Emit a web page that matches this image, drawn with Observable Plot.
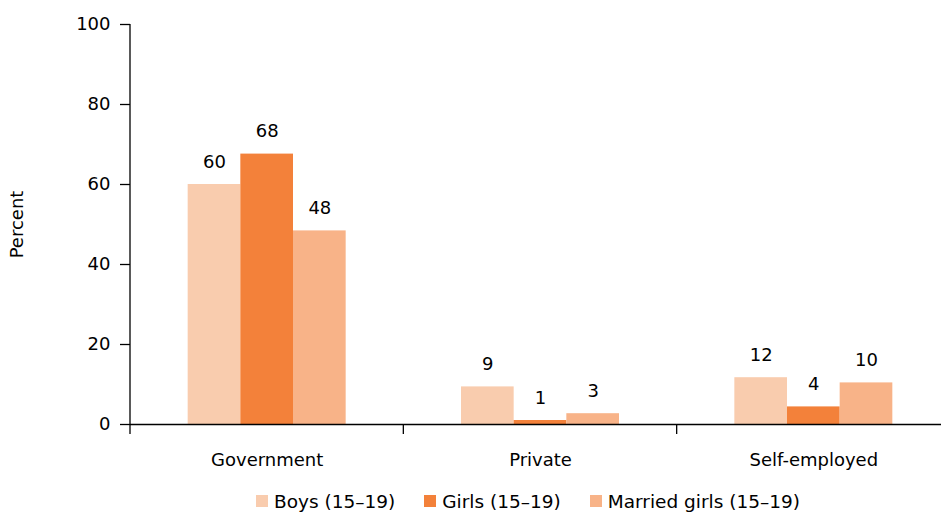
<!DOCTYPE html>
<html><head><meta charset="utf-8">
<script src="https://cdn.jsdelivr.net/npm/d3@7"></script>
<script src="https://cdn.jsdelivr.net/npm/@observablehq/plot@0.6"></script>
<style>
body{margin:0;background:#fff;font-family:"DejaVu Sans",sans-serif;overflow:hidden}
#legend{display:flex;align-items:center;height:32px;padding-left:256px;font-size:18.5px;color:#000}
#legend .item{display:inline-flex;align-items:center;margin-right:29px}
#legend .sw{display:inline-block;width:12px;height:12px;margin-right:6px}
</style>
</head><body><div id="chart"></div><div id="legend"></div>
<script>
const sectors = ["Government", "Private", "Self-employed"];
const series = ["Boys (15–19)", "Girls (15–19)", "Married girls (15–19)"];
const boys = [60, 9.4, 11.7];
const girls = [67.6, 1, 4.4];
const married = [48.4, 2.7, 10.4];
const colors = ["#F9CCAE", "#F3813A", "#F8B388"];
const yTicks = [0, 20, 40, 60, 80, 100];

const valuesBySeries = [boys, girls, married];
const data = sectors.flatMap((s, i) => series.map((g, j) => ({sector: s, group: g, value: valuesBySeries[j][i]})));

const font = "DejaVu Sans, sans-serif";
const plot = Plot.plot({
  width: 941, height: 485,
  marginTop: 24, marginBottom: 61, marginLeft: 130, marginRight: -9,
  style: {fontFamily: font, fontSize: "18px", color: "#000", background: "#fff", overflow: "visible"},
  fx: {domain: sectors, padding: 0, round: false, label: null},
  x: {domain: series, paddingInner: 0, paddingOuter: 1.095, round: false, axis: null},
  y: {domain: [0, 100]},
  color: {domain: series, range: colors},
  marks: [
    Plot.barY(data, {fx: "sector", x: "group", y: "value", fill: "group"}),
    Plot.text(data, {fx: "sector", x: "group", y: "value", text: d => String(Math.round(d.value)), lineAnchor: "bottom", dy: -17, fontSize: 18, fill: "#000"}),
    Plot.ruleY([0], {stroke: "#000", strokeWidth: 1.3}),
    Plot.axisY({ticks: yTicks, tickSize: 10, tickPadding: 10, stroke: "#000", strokeWidth: 1.3, label: "Percent", labelArrow: "none", labelAnchor: "center", labelOffset: 120, fontSize: 18}),
    Plot.axisFx({anchor: "bottom", tickSize: 0, tickPadding: 29, label: null, fontSize: 18})
  ]
});

const fxInfo = plot.scale("fx");
const fxS = Plot.scale({x: fxInfo});
const yS = Plot.scale({y: plot.scale("y")});
const edges = fxInfo.domain.map(d => fxS.apply(d));
edges.push(edges[edges.length - 1] + fxInfo.bandwidth);
const y0 = yS.apply(0), y100 = yS.apply(100);
const g = d3.select(plot).append("g").attr("stroke", "#000").attr("stroke-width", 1.3);
// boundary ticks between sector bands
g.selectAll("line.edge").data(edges).join("line").attr("class", "edge")
  .attr("x1", d => d).attr("x2", d => d).attr("y1", y0).attr("y2", y0 + 10);
// vertical y-axis line
g.append("line").attr("x1", edges[0]).attr("x2", edges[0]).attr("y1", y100).attr("y2", y0);
d3.select(plot).selectAll("text").filter(function () { return this.textContent.startsWith("Percent"); })
  .text("Percent");

document.getElementById("chart").appendChild(plot);

const legend = d3.select("#legend");
series.forEach((s, i) => {
  const it = legend.append("span").attr("class", "item");
  it.append("span").attr("class", "sw").style("background", colors[i]);
  it.append("span").text(s);
});
</script>
</body></html>
